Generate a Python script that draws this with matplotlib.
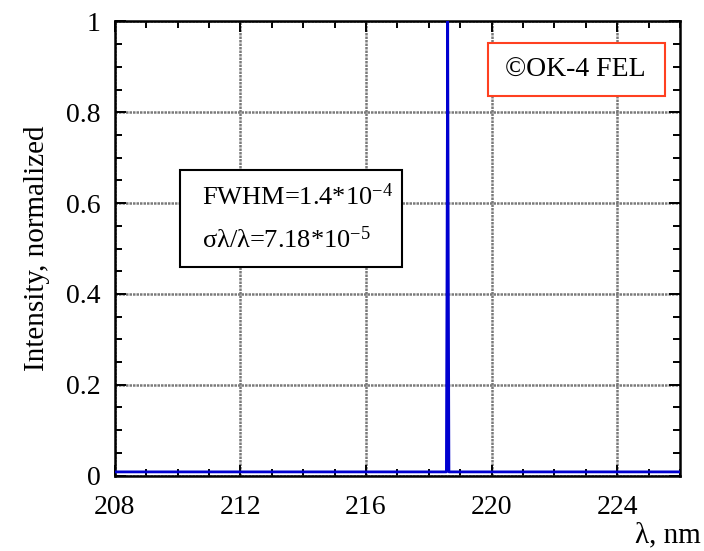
import matplotlib
matplotlib.use('Agg')
import matplotlib.pyplot as plt
from matplotlib.ticker import MultipleLocator
from matplotlib.patches import Rectangle

# spectrum of the OK-4 FEL line
wavelength = [208.0, 218.56, 218.58, 218.60, 218.62, 218.64, 226.0]
intensity = [0.008, 0.008, 0.45, 1.0, 0.45, 0.008, 0.008]

x_ticks = [208, 212, 216, 220, 224]
y_ticks = [0, 0.2, 0.4, 0.6, 0.8, 1]
y_tick_labels = ['0', '0.2', '0.4', '0.6', '0.8', '1']

plt.rcParams['font.family'] = ['Liberation Serif', 'DejaVu Serif']
plt.rcParams['mathtext.fontset'] = 'custom'
plt.rcParams['mathtext.rm'] = 'Liberation Serif'
plt.rcParams['mathtext.it'] = 'Liberation Serif:italic'

fig = plt.figure(figsize=(7.04, 5.51), dpi=100)
ax = fig.add_axes([0.163, 0.137, 0.803, 0.824])

ax.plot(wavelength, intensity, color='#0000d0', lw=2.0, zorder=3)

ax.set_xlim(208, 226)
ax.set_ylim(0, 1)
ax.set_xticks(x_ticks)
ax.set_yticks(y_ticks)
ax.set_yticklabels(y_tick_labels)
ax.xaxis.set_minor_locator(MultipleLocator(1))
ax.yaxis.set_minor_locator(MultipleLocator(0.05))
ax.tick_params(which='both', direction='in', top=True, right=True, width=1.4,
               labelsize=20)
ax.tick_params(axis='x', pad=14)
ax.tick_params(axis='y', pad=10)
ax.tick_params(which='major', length=8)
ax.tick_params(which='minor', length=5)
for s in ax.spines.values():
    s.set_linewidth(1.8)

ax.grid(True, which='major', color='#7a7a7a', lw=1.8, ls=(0, (1.0, 0.4)))

ax.set_ylabel('Intensity, normalized', fontsize=21, labelpad=12)
fig.text(0.995, 0.004, 'λ, nm', fontsize=21, ha='right', va='bottom')

# FWHM box
ax.add_patch(Rectangle((0.116, 0.46), 0.393, 0.213, transform=ax.transAxes,
                       fc='white', ec='black', lw=1.5, zorder=4))
ax.text(0.155, 0.615, 'FWHM=1.4*10$^{\\mathregular{-4}}$', transform=ax.transAxes,
        fontsize=19, va='center', ha='left', zorder=5)
ax.text(0.155, 0.52, 'σλ/λ=7.18*10$^{−5}$', transform=ax.transAxes,
        fontsize=19, va='center', ha='left', zorder=5)

# label box
ax.add_patch(Rectangle((0.66, 0.835), 0.313, 0.118, transform=ax.transAxes,
                       fc='white', ec='#ff4020', lw=1.5, zorder=4))
ax.text(0.815, 0.893, '©OK-4 FEL', transform=ax.transAxes, fontsize=20,
        ha='center', va='center', zorder=5)

fig.savefig('out.png', dpi=100)
